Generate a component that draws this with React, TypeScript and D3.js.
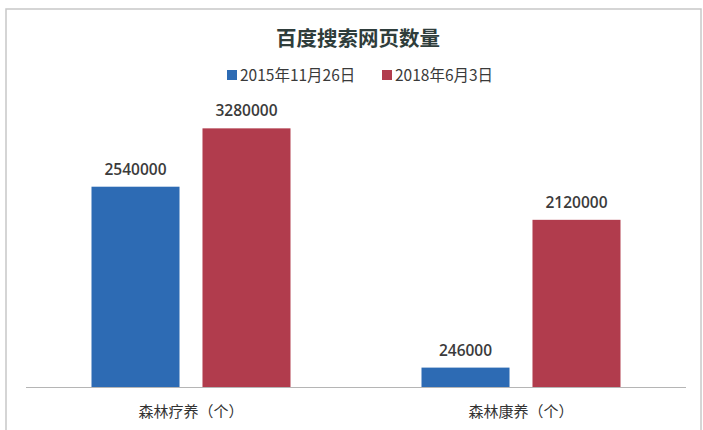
import React from "react";
import * as d3 from "d3";

const categories = ["森林疗养（个）", "森林康养（个）"];
const seriesNames = ["2015年11月26日", "2018年6月3日"];
const series2015 = [2540000, 246000];
const series2018 = [3280000, 2120000];
const colors = ["#2d6bb4", "#b13c4d"];
const title = "百度搜索网页数量";

const W = 703;
const H = 430;

export default function App() {
  const x0 = d3.scaleBand<string>().domain(categories).range([26, 686]).paddingInner(0).paddingOuter(0);
  const x1 = d3.scaleBand<string>().domain(seriesNames).range([0, 199]).paddingInner(0.207).paddingOuter(0);
  const y = d3.scaleLinear().domain([0, 3500000]).range([387, 111]);
  const values = [series2015, series2018];
  const groupOffset = (x0.bandwidth() - 199) / 2;

  return (
    <svg width={W} height={H} style={{ position: "absolute", left: 0, top: 0, background: "#fff" }}>
      <rect x={6} y={9} width={695} height={440} fill="none" stroke="#c8c8c8" strokeWidth={1.5} />
      <text x={358} y={46} textAnchor="middle" fontFamily="'Noto Sans CJK SC'" fontWeight="bold" fontSize={20.5} fill="#2f3d3b">
        {title}
      </text>
      {seriesNames.map((s, i) => {
        const lx = i === 0 ? 227 : 382;
        return (
          <g key={s}>
            <rect x={lx} y={70} width={10} height={10} fill={colors[i]} />
            <text x={lx + 13} y={81} fontFamily="'Noto Sans CJK SC', 'Open Sans'" fontSize={15.5} fill="#3a3a3a">
              {s}
            </text>
          </g>
        );
      })}
      <line x1={26} x2={686} y1={387.5} y2={387.5} stroke="#b5b5b5" strokeWidth={1.2} />
      {categories.map((c, ci) => (
        <g key={c}>
          {seriesNames.map((s, si) => {
            const v = values[si][ci];
            const bx = (x0(c) ?? 0) + groupOffset + (x1(s) ?? 0);
            return (
              <g key={s}>
                <rect x={bx} y={y(v)} width={x1.bandwidth()} height={387 - y(v)} fill={colors[si]} />
                <text
                  x={bx + x1.bandwidth() / 2}
                  y={y(v) - 12}
                  textAnchor="middle"
                  fontFamily="'Open Sans', 'Noto Sans'"
                  fontWeight="600"
                  fontSize={15.5}
                  fill="#3b3b3b"
                >
                  {v}
                </text>
              </g>
            );
          })}
          <text
            x={(x0(c) ?? 0) + x0.bandwidth() / 2}
            y={417}
            textAnchor="middle"
            fontFamily="'Noto Sans CJK SC'"
            fontSize={15}
            fill="#333"
          >
            {c}
          </text>
        </g>
      ))}
    </svg>
  );
}
